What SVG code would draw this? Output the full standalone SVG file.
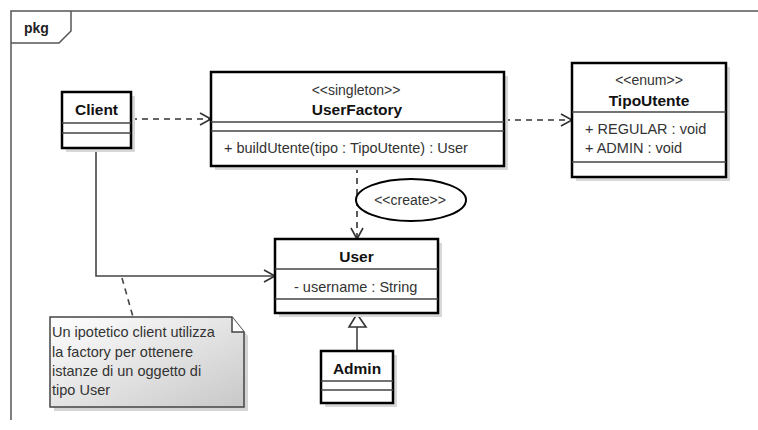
<svg xmlns="http://www.w3.org/2000/svg" width="758" height="430" viewBox="0 0 758 430">
<style>
  .box{fill:#fff;stroke:#000;stroke-width:2.5}
  .shadow{fill:#d8d8d8}
  .div{stroke:#444;stroke-width:1.5}
  .title{font-family:"Liberation Sans",Arial,sans-serif;font-weight:bold;font-size:15.5px;fill:#111;text-anchor:middle}
  .st{font-family:"Liberation Sans",Arial,sans-serif;font-size:14px;fill:#333;text-anchor:middle}
  .attr{font-family:"Liberation Sans",Arial,sans-serif;font-size:14.5px;fill:#333}
  .dash{fill:none;stroke:#333;stroke-width:1.6;stroke-dasharray:6,5}
  .solid{fill:none;stroke:#444;stroke-width:1.6}
  .head{fill:none;stroke:#333;stroke-width:1.6}
</style>
<defs>
  <marker id="open" markerWidth="14" markerHeight="14" refX="12" refY="7" orient="auto" markerUnits="userSpaceOnUse">
    <path d="M1,1 L12,7 L1,13" class="head"/>
  </marker>
  <linearGradient id="noteg" x1="0" y1="0" x2="1" y2="1">
    <stop offset="0" stop-color="#ffffff"/>
    <stop offset="1" stop-color="#c8c8c8"/>
  </linearGradient>
</defs>
<rect width="758" height="430" fill="#fff"/>
<g id="frame">
  <path d="M11,420 L11,11 L758,11" fill="none" stroke="#555" stroke-width="1.5"/>
  <path d="M11,43 L59,43 L71,31 L71,11" fill="none" stroke="#555" stroke-width="1.5"/>
  <text x="24" y="33" font-family="Liberation Sans,Arial,sans-serif" font-weight="bold" font-size="14" fill="#222">pkg</text>
</g>
<g id="connectors">
  <line x1="131" y1="119" x2="211" y2="119" class="dash" marker-end="url(#open)"/>
  <line x1="504" y1="120" x2="572" y2="120" class="dash" marker-end="url(#open)"/>
  <line x1="357" y1="167" x2="357" y2="239" class="dash" marker-end="url(#open)"/>
  <polyline points="96,148 96,276 275,276" class="solid" marker-end="url(#open)"/>
  <line x1="357" y1="351" x2="357" y2="327" class="solid"/>
  <polygon points="357,314 349,327 366,327" fill="#fff" stroke="#333" stroke-width="1.6"/>
  <line x1="122" y1="278" x2="133" y2="317" stroke="#444" stroke-width="1.6" stroke-dasharray="6,5"/>
  <ellipse cx="411" cy="200" rx="55" ry="21" fill="#fff" stroke="#000" stroke-width="2"/>
  <text x="410" y="205" class="st">&lt;&lt;create&gt;&gt;</text>
</g>
<g id="Client">
  <rect x="66" y="96" width="69" height="56" class="shadow"/>
  <rect x="62" y="92" width="69" height="56" class="box"/>
  <line x1="62" y1="123" x2="131" y2="123" class="div"/>
  <line x1="62" y1="133" x2="131" y2="133" class="div"/>
  <text x="96.5" y="115" class="title">Client</text>
</g>
<g id="UserFactory">
  <rect x="215" y="76" width="293" height="94" class="shadow"/>
  <rect x="211" y="72" width="293" height="94" class="box"/>
  <line x1="211" y1="122" x2="504" y2="122" class="div"/>
  <line x1="211" y1="131" x2="504" y2="131" class="div"/>
  <text x="356" y="95" class="st">&lt;&lt;singleton&gt;&gt;</text>
  <text x="357" y="115" class="title">UserFactory</text>
  <text x="224" y="153" class="attr">+ buildUtente(tipo : TipoUtente) : User</text>
</g>
<g id="TipoUtente">
  <rect x="576" y="67" width="154" height="114" class="shadow"/>
  <rect x="572" y="63" width="154" height="114" class="box"/>
  <line x1="572" y1="112" x2="726" y2="112" class="div"/>
  <line x1="572" y1="162" x2="726" y2="162" class="div"/>
  <text x="649" y="85" class="st">&lt;&lt;enum&gt;&gt;</text>
  <text x="649" y="106" class="title">TipoUtente</text>
  <text x="585" y="134" class="attr">+ REGULAR : void</text>
  <text x="585" y="153" class="attr">+ ADMIN : void</text>
</g>
<g id="User">
  <rect x="279" y="243" width="163" height="74" class="shadow"/>
  <rect x="275" y="239" width="163" height="74" class="box"/>
  <line x1="275" y1="269" x2="438" y2="269" class="div"/>
  <line x1="275" y1="299" x2="438" y2="299" class="div"/>
  <text x="356.5" y="262" class="title">User</text>
  <text x="294" y="292" class="attr">- username : String</text>
</g>
<g id="Admin">
  <rect x="325" y="355" width="72" height="52" class="shadow"/>
  <rect x="321" y="351" width="72" height="52" class="box"/>
  <line x1="321" y1="381" x2="393" y2="381" class="div"/>
  <line x1="321" y1="390" x2="393" y2="390" class="div"/>
  <text x="357" y="374" class="title">Admin</text>
</g>
<g id="Note">
  <path d="M54,321 L236,321 L248,336 L248,411 L54,411 Z" fill="#d4d4d4"/>
  <path d="M50,317 L232,317 L244,332 L244,407 L50,407 Z" fill="url(#noteg)" stroke="#444" stroke-width="1.5"/>
  <path d="M232,317 L232,332 L244,332" fill="#fff" stroke="#444" stroke-width="1.5"/>
  <text class="attr" font-size="15" x="52">
    <tspan x="52" y="337">Un ipotetico client utilizza</tspan>
    <tspan x="52" y="357">la factory per ottenere</tspan>
    <tspan x="52" y="376">istanze di un oggetto di</tspan>
    <tspan x="52" y="395">tipo User</tspan>
  </text>
</g>
</svg>
